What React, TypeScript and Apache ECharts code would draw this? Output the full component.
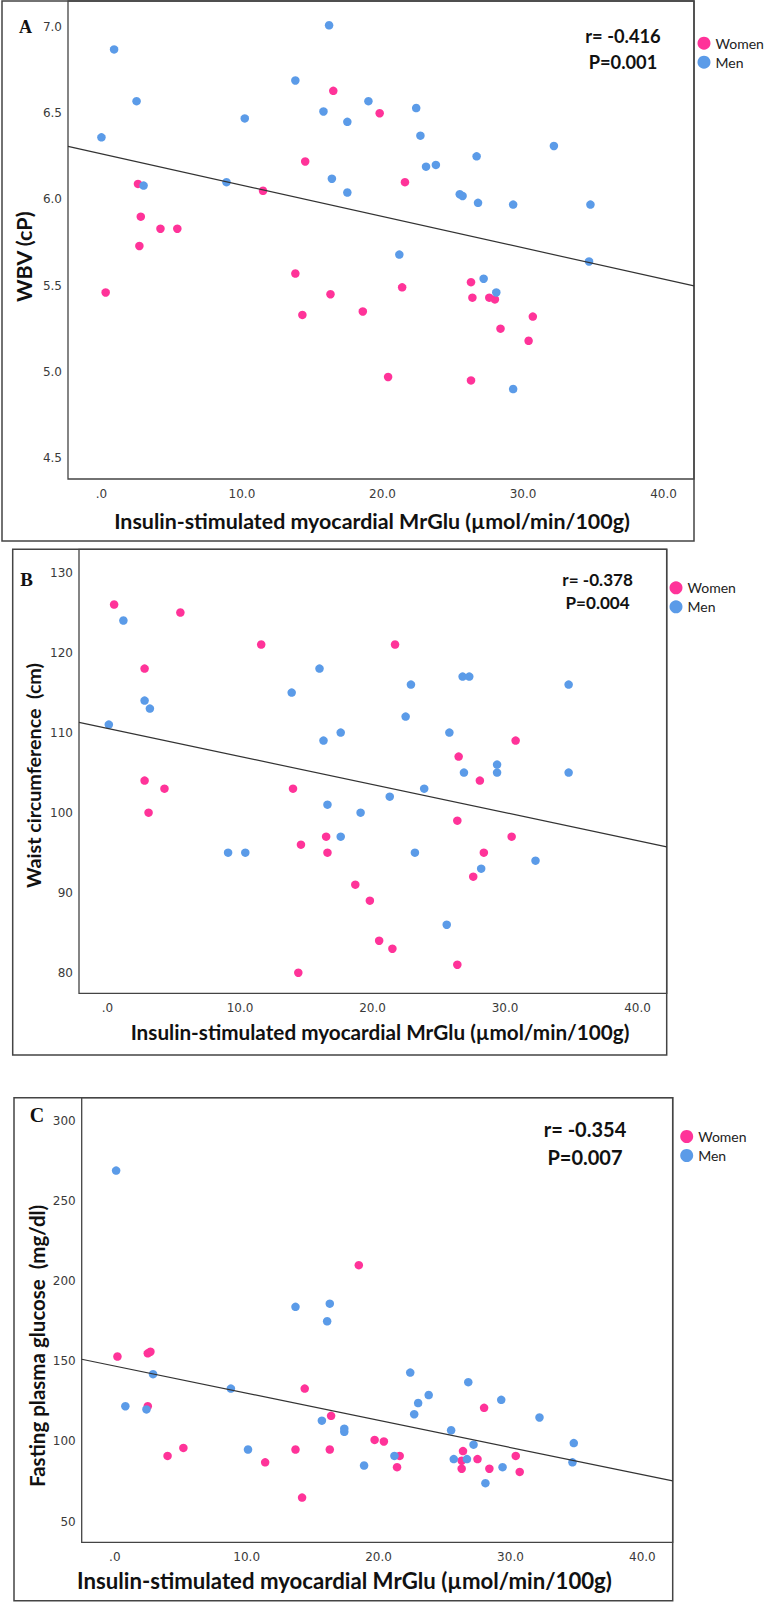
import React, { useEffect, useRef } from "react";
import * as echarts from "echarts";

// ---------- data ----------
const xTicks = [0, 10, 20, 30, 40];
const wbvTicks = [4.5, 5.0, 5.5, 6.0, 6.5, 7.0];
const waistTicks = [80, 90, 100, 110, 120, 130];
const glucoseTicks = [50, 100, 150, 200, 250, 300];

const xTitle = "Insulin-stimulated myocardial MrGlu (\u00b5mol/min/100g)";
const seriesNames = ["Women", "Men"];

// Panel A: WBV (cP)
const wbvWomen = [
  [16.5, 6.63], [19.8, 6.5], [14.5, 6.22], [11.5, 6.05], [2.6, 6.09], [2.8, 5.9],
  [4.2, 5.83], [5.4, 5.83], [2.7, 5.73], [21.6, 6.1], [0.3, 5.46], [13.8, 5.57],
  [16.3, 5.45], [14.3, 5.33], [18.6, 5.35], [20.4, 4.97], [21.4, 5.49], [26.3, 5.52],
  [26.4, 5.43], [27.6, 5.43], [28.0, 5.42], [30.7, 5.32], [28.4, 5.25], [30.4, 5.18],
  [26.3, 4.95],
];
const wbvMen = [
  [0.9, 6.87], [2.5, 6.57], [0.0, 6.36], [3.0, 6.08], [8.9, 6.1], [10.2, 6.47],
  [13.8, 6.69], [16.2, 7.01], [15.8, 6.51], [17.5, 6.45], [16.4, 6.12], [17.5, 6.04],
  [19.0, 6.57], [22.4, 6.53], [22.7, 6.37], [23.1, 6.19], [23.8, 6.2], [26.7, 6.25],
  [25.5, 6.03], [25.7, 6.02], [26.8, 5.98], [29.3, 5.97], [32.2, 6.31], [34.8, 5.97],
  [21.2, 5.68], [34.7, 5.64], [27.2, 5.54], [28.1, 5.46], [29.3, 4.9],
];
const wbvFit = [6.264, -0.01816]; // intercept, slope
const wbvStats = ["r= -0.416", "P=0.001"];

// Panel B: Waist circumference (cm)
const waistWomen = [
  [0.5, 126], [5.5, 125], [11.6, 121], [21.7, 121], [2.8, 118], [2.8, 104], [4.3, 103],
  [14.0, 103], [30.8, 109], [26.5, 107], [28.1, 104], [3.1, 100], [16.5, 97], [14.6, 96],
  [16.6, 95], [18.7, 91], [19.8, 89], [20.5, 84], [21.5, 83], [14.4, 80], [26.4, 99],
  [30.5, 97], [28.4, 95], [27.6, 92], [26.4, 81],
];
const waistMen = [
  [1.2, 124], [16.0, 118], [13.9, 115], [2.8, 114], [3.2, 113], [0.1, 111], [17.6, 110],
  [16.3, 109], [26.8, 117], [27.3, 117], [22.9, 116], [34.8, 116], [22.5, 112], [25.8, 110],
  [29.4, 106], [29.4, 105], [26.9, 105], [34.8, 105], [23.9, 103], [16.6, 101], [19.1, 100],
  [21.3, 102], [17.6, 97], [9.1, 95], [10.4, 95], [23.2, 95], [32.3, 94], [28.2, 93],
  [25.6, 86],
];
const waistFit = [110.52, -0.3504];
const waistStats = ["r= -0.378", "P=0.004"];

// Panel C: Fasting plasma glucose (mg/dl)
const glucoseWomen = [
  [18.5, 210], [0.2, 153], [2.5, 155], [2.7, 156], [14.4, 133], [2.5, 122], [16.4, 116],
  [4.0, 91], [5.2, 96], [11.4, 87], [13.7, 95], [16.3, 95], [19.7, 101], [20.4, 100],
  [21.6, 91], [21.4, 84], [14.2, 65], [28.0, 121], [26.4, 94], [26.3, 88], [27.5, 89],
  [26.3, 83], [28.4, 83], [30.4, 91], [30.7, 81],
];
const glucoseMen = [
  [0.1, 269], [13.7, 184], [16.3, 186], [16.1, 175], [2.9, 142], [8.8, 133], [0.8, 122],
  [2.4, 120], [15.7, 113], [17.4, 108], [17.4, 106], [10.1, 95], [18.9, 85], [21.2, 91],
  [22.4, 143], [26.8, 137], [23.8, 129], [23.0, 124], [29.3, 126], [22.7, 117], [32.2, 115],
  [25.5, 107], [27.2, 98], [34.8, 99], [25.7, 89], [26.7, 89], [29.4, 84], [34.7, 87],
  [28.1, 74],
];
const glucoseFit = [147.05, -1.694];
const glucoseStats = ["r= -0.354", "P=0.007"];

// ---------- styling / layout ----------
const PINK = "#FF3399";
const BLUE = "#5B9BE8";
const FONT = "Lato, 'Open Sans', sans-serif";
const TICK_FONT = "'DejaVu Sans', Verdana, sans-serif";
const LINE = "#444";

const panels = [
  {
    letter: "A", yTitle: "WBV (cP)", ticks: wbvTicks, women: wbvWomen, men: wbvMen,
    fit: wbvFit, stats: wbvStats, yDigits: 1,
    frame: { x: 2, y: 1, w: 692, h: 540 },
    grid: { left: 68, top: 1, width: 626, height: 478 },
    xr: [-2.38, 42.17], yr: [4.378, 7.151],
    letterPos: [25.5, 26.5, 18], statX: 623, statY: [35.7, 61.7], statSize: 18.3,
    legend: [697.5, 36.2], xTitlePos: [372, 521], xTitleSize: 21.4,
    yTitleStart: [24, 302], yTitleSize: 21.5,
  },
  {
    letter: "B", yTitle: "Waist circumference  (cm)", ticks: waistTicks, women: waistWomen, men: waistMen,
    fit: waistFit, stats: waistStats, yDigits: 0,
    frame: { x: 12.7, y: 549.3, w: 654, h: 505.7 },
    grid: { left: 79, top: 549.3, width: 587.7, height: 444 },
    xr: [-2.15, 42.2], yr: [77.43, 132.9],
    letterPos: [26.5, 579, 19], statX: 597.6, statY: [579, 602.7], statSize: 17.1,
    legend: [669.5, 580.8], xTitlePos: [380, 1032], xTitleSize: 20.7,
    yTitleStart: [33, 888], yTitleSize: 19.7,
  },
  {
    letter: "C", yTitle: "Fasting plasma glucose  (mg/dl)", ticks: glucoseTicks, women: glucoseWomen, men: glucoseMen,
    fit: glucoseFit, stats: glucoseStats, yDigits: 0,
    frame: { x: 14, y: 1097.7, w: 658.7, h: 503 },
    grid: { left: 81.7, top: 1097.7, width: 591, height: 444.6 },
    xr: [-2.51, 42.3], yr: [37.1, 314.5],
    letterPos: [37, 1115, 20], statX: 585, statY: [1129.3, 1156.7], statSize: 20,
    legend: [680.2, 1129.5], xTitlePos: [344.5, 1580.5], xTitleSize: 22.2,
    yTitleStart: [36.5, 1487], yTitleSize: 20.5,
  },
];

function txt(text: string, x: number, y: number, size: number, opts: any = {}) {
  const align = opts.align || "center";
  return {
    type: "text",
    x,
    y,
    rotation: opts.rotation || 0,
    z: 10,
    silent: true,
    style: {
      text,
      fontSize: size,
      fontWeight: opts.weight || "bold",
      fontFamily: opts.family || FONT,
      fill: opts.color || "#111",
      textAlign: align,
      align,
      textVerticalAlign: "middle",
      verticalAlign: "middle",
    },
  };
}

function buildOption() {
  const grid: any[] = [];
  const xAxis: any[] = [];
  const yAxis: any[] = [];
  const series: any[] = [];
  const legend: any[] = [];
  const graphic: any[] = [];

  panels.forEach((p, i) => {
    grid.push({
      left: p.grid.left, top: p.grid.top, width: p.grid.width, height: p.grid.height,
      show: true, borderColor: LINE, borderWidth: 1.3, containLabel: false,
    });
    xAxis.push({
      type: "value", gridIndex: i, min: p.xr[0], max: p.xr[1],
      axisLine: { show: false }, axisTick: { show: false }, splitLine: { show: false },
      axisLabel: {
        customValues: xTicks,
        formatter: (v: number) => (v === 0 ? ".0" : v.toFixed(1)),
        margin: 9, fontSize: 12, fontFamily: TICK_FONT, color: "#3a3a3a",
      },
    });
    yAxis.push({
      type: "value", gridIndex: i, min: p.yr[0], max: p.yr[1],
      axisLine: { show: false }, axisTick: { show: false }, splitLine: { show: false },
      axisLabel: {
        customValues: p.ticks,
        formatter: (v: number) => v.toFixed(p.yDigits),
        margin: 6, fontSize: 12, fontFamily: TICK_FONT, color: "#3a3a3a",
      },
    });
    series.push({
      name: "Women", type: "scatter", xAxisIndex: i, yAxisIndex: i, data: p.women,
      symbol: "circle", symbolSize: 8.5, itemStyle: { color: PINK, opacity: 1 }, z: 2,
    });
    series.push({
      name: "Men", type: "scatter", xAxisIndex: i, yAxisIndex: i, data: p.men,
      symbol: "circle", symbolSize: 8.5, itemStyle: { color: BLUE, opacity: 1 }, z: 3,
    });
    const [a, b] = p.fit;
    series.push({
      name: "fit" + i, type: "line", xAxisIndex: i, yAxisIndex: i,
      data: [[p.xr[0], a + b * p.xr[0]], [p.xr[1], a + b * p.xr[1]]],
      symbol: "none", lineStyle: { color: "#333", width: 1.2 }, z: 4, silent: true,
    });
    legend.push({
      left: p.legend[0], top: p.legend[1], orient: "vertical", padding: 0,
      itemWidth: 13, itemHeight: 13, itemGap: 5, icon: "circle", selectedMode: false,
      data: seriesNames, textStyle: { fontSize: 14, fontFamily: FONT, color: "#222" },
    });
    graphic.push({
      type: "rect", silent: true, z: 1,
      shape: { x: p.frame.x, y: p.frame.y, width: p.frame.w, height: p.frame.h },
      style: { fill: "none", stroke: LINE, lineWidth: 1.5 },
    });
    graphic.push(txt(p.letter, p.letterPos[0], p.letterPos[1], p.letterPos[2], { family: "'Liberation Serif', 'Times New Roman', serif" }));
    graphic.push(txt(p.stats[0], p.statX, p.statY[0], p.statSize));
    graphic.push(txt(p.stats[1], p.statX, p.statY[1], p.statSize));
    graphic.push(txt(xTitle, p.xTitlePos[0], p.xTitlePos[1], p.xTitleSize));
    graphic.push(txt(p.yTitle, p.yTitleStart[0], p.yTitleStart[1], p.yTitleSize, { rotation: Math.PI / 2, align: "left" }));
  });

  return {
    animation: false,
    backgroundColor: "#fff",
    tooltip: { show: false },
    grid, xAxis, yAxis, series, legend, graphic,
  };
}

export default function App() {
  const ref = useRef<HTMLDivElement>(null);
  useEffect(() => {
    if (!ref.current) return;
    const chart = echarts.init(ref.current, undefined, { renderer: "svg" });
    chart.setOption(buildOption() as any);
    return () => chart.dispose();
  }, []);
  return (
    <div
      ref={ref}
      style={{ position: "absolute", left: 0, top: 0, width: 765, height: 1603, background: "#fff" }}
    />
  );
}
